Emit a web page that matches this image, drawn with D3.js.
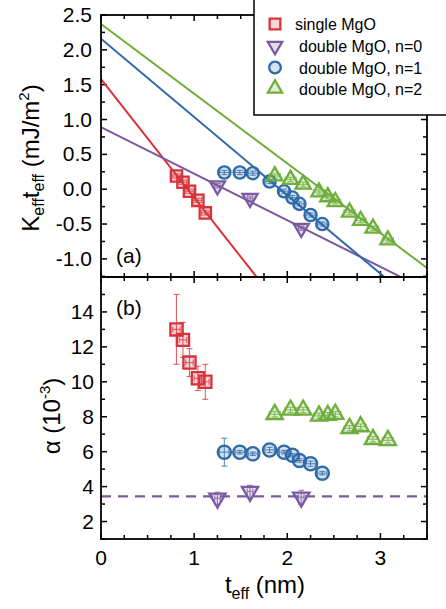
<!DOCTYPE html>
<html>
<head>
<meta charset="utf-8">
<script src="https://cdn.jsdelivr.net/npm/d3@7"></script>
<style>
  body { margin: 0; background: #fff; }
  text { font-family: "Liberation Sans", Arial, sans-serif; fill: #000; }
</style>
</head>
<body>
<div id="chart"></div>
<script>
// ---- data ----
const seriesNames = ["single MgO", "double MgO, n=0", "double MgO, n=1", "double MgO, n=2"];

const tRed = [0.81, 0.88, 0.95, 1.04, 1.12];
const kRed = [0.19, 0.10, -0.03, -0.16, -0.34];
const aRed = [13.0, 12.4, 11.1, 10.2, 10.0];
const aErrRed = [2.0, 1.0, 0.8, 0.7, 1.0];

const tPurple = [1.25, 1.60, 2.15];
const kPurple = [0.05, -0.13, -0.56];
const aPurple = [3.33, 3.72, 3.39];
const aErrPurple = [0.35, 0.35, 0.4];

const tBlue = [1.324, 1.49, 1.63, 1.81, 1.965, 2.055, 2.13, 2.25, 2.376];
const kBlue = [0.24, 0.24, 0.23, 0.11, -0.03, -0.12, -0.21, -0.37, -0.50];
const aBlue = [5.97, 5.97, 5.88, 6.1, 5.97, 5.8, 5.5, 5.31, 4.77];
const aErrBlue = [0.8, 0.1, 0.1, 0.15, 0.1, 0.1, 0.1, 0.15, 0.1];

const tGreen = [1.865, 2.035, 2.17, 2.34, 2.435, 2.515, 2.668, 2.787, 2.92, 3.08];
const kGreen = [0.19, 0.14, 0.07, -0.04, -0.11, -0.18, -0.33, -0.45, -0.56, -0.73];
const aGreen = [8.14, 8.39, 8.39, 8.05, 8.09, 8.15, 7.34, 7.44, 6.71, 6.65];
const aErrGreen = [0.15, 0.15, 0.15, 0.15, 0.15, 0.15, 0.15, 0.15, 0.15, 0.15];

// linear fits K*t = intercept + slope * t
const fitIntercept = [1.58, 0.89, 2.16, 2.37];
const fitSlope = [-1.70, -0.668, -1.124, -1.0];

// alpha of the n=0 sample (dashed line)
const alphaN0 = 3.44;

const tErr = [0.04, 0.03, 0.05, 0.06];
const kErr = 0.03;

// ---- layout ----
const W = 446, H = 609;
const left = 101, right = 427;
const topA = 15, midY = 277, botB = 539;

const colors = ["#d8333a", "#7a5aa0", "#2f6aa8", "#6fae3c"];
const symbols = [d3.symbolSquare, d3.symbolTriangle, d3.symbolCircle, d3.symbolTriangle];
const symSize = [135, 105, 125, 105];
const symRot = [0, 180, 0, 0];

const series = [
  { t: tRed, k: kRed, a: aRed, ae: aErrRed },
  { t: tPurple, k: kPurple, a: aPurple, ae: aErrPurple },
  { t: tBlue, k: kBlue, a: aBlue, ae: aErrBlue },
  { t: tGreen, k: kGreen, a: aGreen, ae: aErrGreen }
];

const svg = d3.select("#chart").append("svg")
  .attr("width", W).attr("height", H);

const x = d3.scaleLinear().domain([0, 3.5]).range([left, right]);
const yA = d3.scaleLinear().domain([-1.26, 2.5]).range([midY, topA]);
const yB = d3.scaleLinear().domain([1, 16]).range([botB, midY]);

svg.append("defs").append("clipPath").attr("id", "clipA")
  .append("rect").attr("x", left).attr("y", topA)
  .attr("width", right - left).attr("height", midY - topA);

// ---- ticks on all four sides, pointing inward ----
function drawTicks(g, y, yMajor, yMinor, y0, y1) {
  const majT = d3.range(0, 3.51, 1), minT = d3.range(0, 3.51, 0.25);
  const tick = (x1, y1_, x2, y2_) => g.append("line")
    .attr("x1", x1).attr("y1", y1_).attr("x2", x2).attr("y2", y2_)
    .attr("stroke", "#000").attr("stroke-width", 1.5);
  minT.forEach(v => {
    const len = majT.some(m => Math.abs(m - v) < 1e-6) ? 6 : 4;
    tick(x(v), y0, x(v), y0 - len);
    tick(x(v), y1, x(v), y1 + len);
  });
  yMinor.forEach(v => {
    const len = yMajor.some(m => Math.abs(m - v) < 1e-6) ? 6 : 4;
    tick(left, y(v), left + len, y(v));
    tick(right, y(v), right - len, y(v));
  });
}

const gA = svg.append("g");
const gB = svg.append("g");

drawTicks(gA, yA, d3.range(-1, 2.51, 0.5), d3.range(-1.25, 2.51, 0.25), midY, topA);
drawTicks(gB, yB, d3.range(2, 16, 2), d3.range(1, 16.01, 1), botB, midY);

// frames
[[topA, midY], [midY, botB]].forEach(([a, b]) => {
  svg.append("rect").attr("x", left).attr("y", a)
    .attr("width", right - left).attr("height", b - a)
    .attr("fill", "none").attr("stroke", "#000").attr("stroke-width", 1.8);
});

// tick labels
d3.range(-1, 2.51, 0.5).forEach(v => {
  gA.append("text").attr("x", 92).attr("y", yA(v) + 7)
    .attr("text-anchor", "end").attr("font-size", 21)
    .text(v.toFixed(1));
});
d3.range(2, 15, 2).forEach(v => {
  gB.append("text").attr("x", 94).attr("y", yB(v) + 7)
    .attr("text-anchor", "end").attr("font-size", 21)
    .text(v);
});
[0, 1, 2, 3].forEach(v => {
  svg.append("text").attr("x", x(v)).attr("y", 565)
    .attr("text-anchor", "middle").attr("font-size", 21).text(v);
});

// ---- fit lines (panel a) ----
const lines = gA.append("g").attr("clip-path", "url(#clipA)");
fitIntercept.forEach((b, i) => {
  lines.append("path")
    .datum([0, 3.5])
    .attr("d", d3.line().x(t => x(t)).y(t => yA(b + fitSlope[i] * t)))
    .attr("stroke", colors[i]).attr("stroke-width", 2).attr("fill", "none");
});

// dashed alpha line (panel b)
gB.append("line")
  .attr("x1", x(0)).attr("x2", x(3.5))
  .attr("y1", yB(alphaN0)).attr("y2", yB(alphaN0))
  .attr("stroke", colors[1]).attr("stroke-width", 2.2)
  .attr("stroke-dasharray", "10,7");

// ---- markers with error bars ----
function errBars(g, px, py, dxPx, dyLo, dyHi, c) {
  const cap = 3;
  const l = (x1, y1, x2, y2) => g.append("line")
    .attr("x1", x1).attr("y1", y1).attr("x2", x2).attr("y2", y2)
    .attr("stroke", c).attr("stroke-width", 1.1).attr("opacity", 0.75);
  l(px - dxPx, py, px + dxPx, py);
  l(px - dxPx, py - cap, px - dxPx, py + cap);
  l(px + dxPx, py - cap, px + dxPx, py + cap);
  l(px, dyLo, px, dyHi);
  l(px - cap, dyLo, px + cap, dyLo);
  l(px - cap, dyHi, px + cap, dyHi);
}

function marker(g, px, py, i, scale) {
  g.append("path")
    .attr("d", d3.symbol().type(symbols[i]).size(symSize[i] * (scale || 1))())
    .attr("transform", `translate(${px},${py}) rotate(${symRot[i]})`)
    .attr("fill", colors[i]).attr("fill-opacity", 0.2)
    .attr("stroke", colors[i]).attr("stroke-width", 2.3);
}

series.forEach((s, i) => {
  const dx = x(tErr[i]) - x(0);
  s.t.forEach((t, j) => {
    errBars(gA, x(t), yA(s.k[j]), dx, yA(s.k[j] - kErr), yA(s.k[j] + kErr), colors[i]);
    errBars(gB, x(t), yB(s.a[j]), dx, yB(s.a[j] - s.ae[j]), yB(s.a[j] + s.ae[j]), colors[i]);
  });
  s.t.forEach((t, j) => {
    marker(gA, x(t), yA(s.k[j]), i, 0.95);
    marker(gB, x(t), yB(s.a[j]), i, 1.1);
  });
});

// panel labels
svg.append("text").attr("x", 116).attr("y", 263).attr("font-size", 21).text("(a)");
svg.append("text").attr("x", 116).attr("y", 315).attr("font-size", 21).text("(b)");

// ---- axis titles ----
const yTitleA = svg.append("text")
  .attr("transform", "translate(39,158) rotate(-90)")
  .attr("text-anchor", "middle").attr("font-size", 24);
yTitleA.append("tspan").text("K");
yTitleA.append("tspan").attr("font-size", 16).attr("dy", 5).text("eff");
yTitleA.append("tspan").attr("dy", -5).text("t");
yTitleA.append("tspan").attr("font-size", 16).attr("dy", 5).text("eff");
yTitleA.append("tspan").attr("dy", -5).text(" (mJ/m");
yTitleA.append("tspan").attr("font-size", 15).attr("dy", -10).text("2");
yTitleA.append("tspan").attr("dy", 10).text(")");

const yTitleB = svg.append("text")
  .attr("transform", "translate(60,416) rotate(-90)")
  .attr("text-anchor", "middle").attr("font-size", 24);
yTitleB.append("tspan").text("α (10");
yTitleB.append("tspan").attr("font-size", 15).attr("dy", -10).text("-3");
yTitleB.append("tspan").attr("dy", 10).text(")");

const xTitle = svg.append("text")
  .attr("x", 265).attr("y", 593)
  .attr("text-anchor", "middle").attr("font-size", 24);
xTitle.append("tspan").text("t");
xTitle.append("tspan").attr("font-size", 16).attr("dy", 6).text("eff");
xTitle.append("tspan").attr("dy", -6).text(" (nm)");

// ---- legend ----
const leg = svg.append("g");
leg.append("rect").attr("x", 254).attr("y", -2).attr("width", 200).attr("height", 117)
  .attr("fill", "#fff").attr("stroke", "#000").attr("stroke-width", 1.5);
const rowY = [24, 46, 67.5, 88.5];
seriesNames.forEach((name, i) => {
  marker(leg, 275, rowY[i], i, 0.85);
  leg.append("text").attr("x", i === 0 ? 295 : 299).attr("y", rowY[i] + 6)
    .attr("font-size", 16).text(name);
});
</script>
</body>
</html>
